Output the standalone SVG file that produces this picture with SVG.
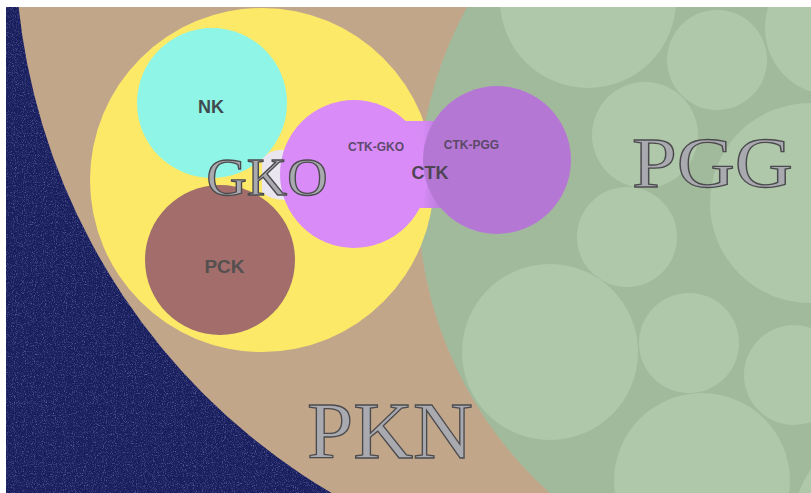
<svg xmlns="http://www.w3.org/2000/svg" width="811" height="493" viewBox="0 0 811 493">
  <defs>
    <filter id="noise" x="0" y="0" width="100%" height="100%">
      <feTurbulence type="fractalNoise" baseFrequency="0.9" numOctaves="2" seed="4" result="t"/>
      <feColorMatrix in="t" type="matrix" values="0 0 0 0 0.4  0 0 0 0 0.45  0 0 0 0 0.75  1.2 0 0 0 -0.6"/>
    </filter>
    <clipPath id="frame"><rect x="6" y="7" width="805" height="486"/></clipPath>
    <clipPath id="greenClip"><circle cx="814" cy="198" r="396"/></clipPath>
    <linearGradient id="band" x1="405" y1="0" x2="445" y2="0" gradientUnits="userSpaceOnUse">
      <stop offset="0" stop-color="#d98cf8"/>
      <stop offset="0.45" stop-color="#d68bf5"/>
      <stop offset="1" stop-color="#b478d4"/>
    </linearGradient>
    <style>
      .bub { fill: #afc8aa; }
      .lbl { font-family: "Liberation Sans", Arial, sans-serif; font-weight: bold; text-anchor: middle; }
      .eng { font-family: "Liberation Serif", "Times New Roman", serif; text-anchor: middle; fill: #a9a9b0; stroke: #4b4b4e; stroke-width: 1.3; }
    </style>
  </defs>
  <rect x="0" y="0" width="811" height="493" fill="#ffffff"/>
  <g clip-path="url(#frame)">
  <g id="background">
    <rect x="6" y="7" width="805" height="486" fill="#191e5e"/>
    <rect x="6" y="7" width="805" height="486" filter="url(#noise)"/>
  </g>
  <g id="PKN">
    <circle cx="658" cy="-61" r="643" fill="#c1a68a"/>
  </g>
  <g id="PGG">
    <circle cx="814" cy="198" r="396" fill="#a2ba9c"/>
    <g clip-path="url(#greenClip)">
      <circle class="bub" cx="588" cy="0" r="88"/>
      <circle class="bub" cx="717" cy="60" r="50"/>
      <circle class="bub" cx="832" cy="28" r="67"/>
      <circle class="bub" cx="645" cy="135" r="53"/>
      <circle class="bub" cx="810" cy="203" r="100"/>
      <circle class="bub" cx="627" cy="237" r="50"/>
      <circle class="bub" cx="550" cy="352" r="88"/>
      <circle class="bub" cx="689" cy="343" r="50"/>
      <circle class="bub" cx="794" cy="375" r="50"/>
      <circle class="bub" cx="702" cy="481" r="88"/>
      <circle class="bub" cx="884" cy="522" r="90"/>
    </g>
  </g>
  <g id="GKO">
    <circle cx="262" cy="180" r="172" fill="#fde968"/>
    <path d="M262 158 Q272 148 288 150 L286 200 Q270 200 262 192 Z" fill="#e9e6ef"/>
  </g>
  <g id="NK">
    <circle cx="212" cy="103" r="75" fill="#8ff5e6"/>
    <text class="lbl" x="211" y="113" font-size="18" fill="#3f4b4f">NK</text>
  </g>
  <g id="PCK">
    <circle cx="220" cy="260" r="75" fill="#a26d6b"/>
    <text class="lbl" x="224.5" y="273" font-size="19" fill="#555050">PCK</text>
  </g>
  <g id="CTK">
    <rect x="400" y="121" width="50" height="87" fill="url(#band)"/>
    <circle id="CTK-GKO" cx="354" cy="174" r="74" fill="#d98cf8"/>
    <circle id="CTK-PGG" cx="497" cy="160" r="74" fill="#b478d4"/>
    <text class="lbl" x="376" y="151" font-size="12" fill="#5e4a6e">CTK-GKO</text>
    <text class="lbl" x="471.5" y="149" font-size="12" fill="#5a4868">CTK-PGG</text>
    <text class="lbl" x="430" y="179" font-size="18" fill="#4e4454">CTK</text>
  </g>
  <g id="titles">
    <text class="eng" x="267" y="195" font-size="53" textLength="121" lengthAdjust="spacingAndGlyphs">GKO</text>
    <text class="eng" x="390" y="458" font-size="80" textLength="166" lengthAdjust="spacingAndGlyphs">PKN</text>
    <text class="eng" x="712.5" y="187" font-size="71" textLength="161" lengthAdjust="spacingAndGlyphs">PGG</text>
  </g>
  <g id="connectors"/>
  </g>
</svg>
